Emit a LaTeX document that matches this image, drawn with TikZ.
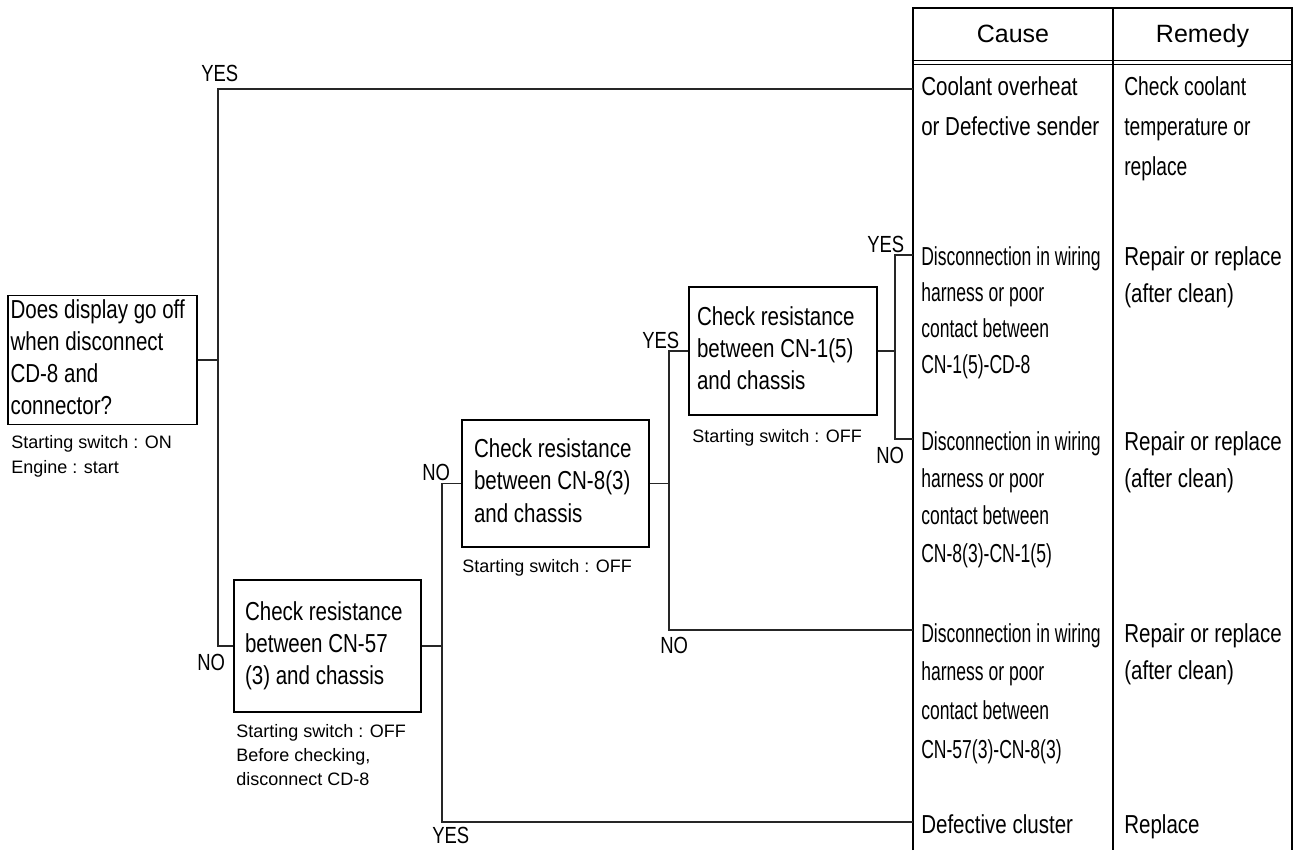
\documentclass[tikz,border=0pt]{standalone}
\usepackage{fontspec}
\setmainfont{Liberation Sans}
\newfontfamily\fA[FakeStretch=0.79]{Liberation Sans}
\newfontfamily\fB[FakeStretch=0.675]{Liberation Sans}
\newfontfamily\fC[FakeStretch=0.74]{Liberation Sans}
\newcommand{\mylines}[1]{\begin{tabular}[t]{@{}l@{}}#1\end{tabular}}
\newcommand{\boxlines}[2]{\makebox[#1][l]{\begin{tabular}{@{}l@{}}#2\end{tabular}}}
\begin{document}
\begin{tikzpicture}[x=0.75pt,y=-0.75pt,
  qbox/.style={draw=black, line width=1.3pt, inner ysep=0pt,
    font=\fA\fontsize{19.5}{24.2}\selectfont},
  txt/.style={anchor=base west, inner sep=0pt},
  big/.style={txt, font=\fA\fontsize{19.5}{#1}\selectfont},
  cond/.style={txt, font=\fB\fontsize{19.5}{#1}\selectfont},
  condc/.style={txt, font=\fC\fontsize{19.5}{#1}\selectfont},
  small/.style={txt, font=\fontsize{13.5}{#1}\selectfont},
  lab/.style={txt, font=\fA\fontsize{17.5}{20}\selectfont},
  head/.style={anchor=base, inner sep=0pt, font=\fontsize{18.75}{22}\selectfont},
  conn/.style={draw=black!85, line width=0.9pt},
  tline/.style={draw=black, line width=1.2pt}]
\useasboundingbox (0,0) rectangle (1302,850);

% ---------- table ----------
\coordinate (TL) at (913,8);
\coordinate (TM) at (1113,8);
\coordinate (TR) at (1292,8);
\coordinate (BL) at (913,850);
\coordinate (BM) at (1113,850);
\coordinate (BR) at (1292,850);
\draw[tline] (BL) -- (TL) -- (TR) -- (BR);
\draw[tline] (TM) -- (BM);
\draw[draw=black, line width=0.8pt] (913,60.5) -- (1292,60.5);
\draw[draw=black, line width=0.8pt] (913,64.5) -- (1292,64.5);
\node[head] (hcause) at (1013,42) {Cause};
\node[head] (hremedy) at (1202.5,42) {Remedy};

% cause column
\node[big=30] (c1) at (921,95) {\mylines{Coolant overheat\\or Defective sender}};
\node[cond=27] (c2) at (921,265) {\mylines{Disconnection in wiring\\harness or poor\\contact between\\CN-1(5)-CD-8}};
\node[cond=28.1] (c3) at (921,450) {\mylines{Disconnection in wiring\\harness or poor\\contact between\\CN-8(3)-CN-1(5)}};
\node[cond=29.2] (c4) at (921,642) {\mylines{Disconnection in wiring\\harness or poor\\contact between\\CN-57(3)-CN-8(3)}};
\node[big=27] (c5) at (921,833) {\mylines{Defective cluster}};

% remedy column
\node[condc=30] (r1) at (1124,95) {\mylines{Check coolant\\temperature or\\replace}};
\node[big=27.75] (r2) at (1124,265) {\mylines{Repair or replace\\(after clean)}};
\node[big=27.75] (r3) at (1124,450) {\mylines{Repair or replace\\(after clean)}};
\node[big=27.75] (r4) at (1124,642) {\mylines{Repair or replace\\(after clean)}};
\node[big=27] (r5) at (1124,833) {\mylines{Replace}};

% ---------- question boxes ----------
\node[qbox, minimum width=189*0.75pt, minimum height=128*0.75pt,
      inner xsep=2.5*0.75pt] (b1) at (102.5,360)
  {\boxlines{138pt}{Does display go off\\when disconnect\\CD-8 and\\connector?}};
\node[qbox, minimum width=187*0.75pt, minimum height=132*0.75pt,
      inner xsep=11*0.75pt] (b2) at (327.5,646)
  {\boxlines{123.75pt}{Check resistance\\between CN-57\\(3) and chassis}};
\node[qbox, minimum width=187*0.75pt, minimum height=127*0.75pt,
      inner xsep=12*0.75pt] (b3) at (555.5,483.5)
  {\boxlines{122.25pt}{Check resistance\\between CN-8(3)\\and chassis}};
\node[qbox, minimum width=188*0.75pt, minimum height=128*0.75pt,
      inner xsep=8*0.75pt] (b4) at (783,351)
  {\boxlines{129pt}{Check resistance\\between CN-1(5)\\and chassis}};

% conditions under boxes
\node[small=18.75] (s1) at (11,448) {\mylines{Starting switch : ON\\Engine : start}};
\node[small=18] (s2) at (236,737) {\mylines{Starting switch : OFF\\Before checking,\\disconnect CD-8}};
\node[small=18] (s3) at (462,572) {\mylines{Starting switch : OFF}};
\node[small=18] (s4) at (692,442) {\mylines{Starting switch : OFF}};

% ---------- connectors ----------
\coordinate (j1) at (218,360);
\coordinate (j2) at (442,646);
\coordinate (j3) at (669,483.5);
\coordinate (j4) at (895,351);
\coordinate (t1) at (913,89);
\coordinate (t2) at (913,255);
\coordinate (t3) at (913,439);
\coordinate (t4) at (913,630);
\coordinate (t5) at (913,822);

\draw[conn] (b1.east) -- (j1);
\draw[conn] (t1) -| (j1) |- (b2.west);
\draw[conn] (b2.east) -- (j2);
\draw[conn] (b3.west) -| (j2) |- (t5);
\draw[conn] (b3.east) -- (j3);
\draw[conn] (b4.west) -| (j3) |- (t4);
\draw[conn] (b4.east) -- (j4);
\draw[conn] (t2) -| (j4) |- (t3);

% ---------- YES / NO labels ----------
\node[lab] (y1) at (201,81) {YES};
\node[lab] (n1) at (197,670) {NO};
\node[lab] (n2) at (422,480) {NO};
\node[lab] (y2) at (642,348) {YES};
\node[lab] (n3) at (660,653) {NO};
\node[lab] (y3) at (432,843) {YES};
\node[lab] (y4) at (867,252) {YES};
\node[lab] (n4) at (876,463) {NO};
\end{tikzpicture}
\end{document}
